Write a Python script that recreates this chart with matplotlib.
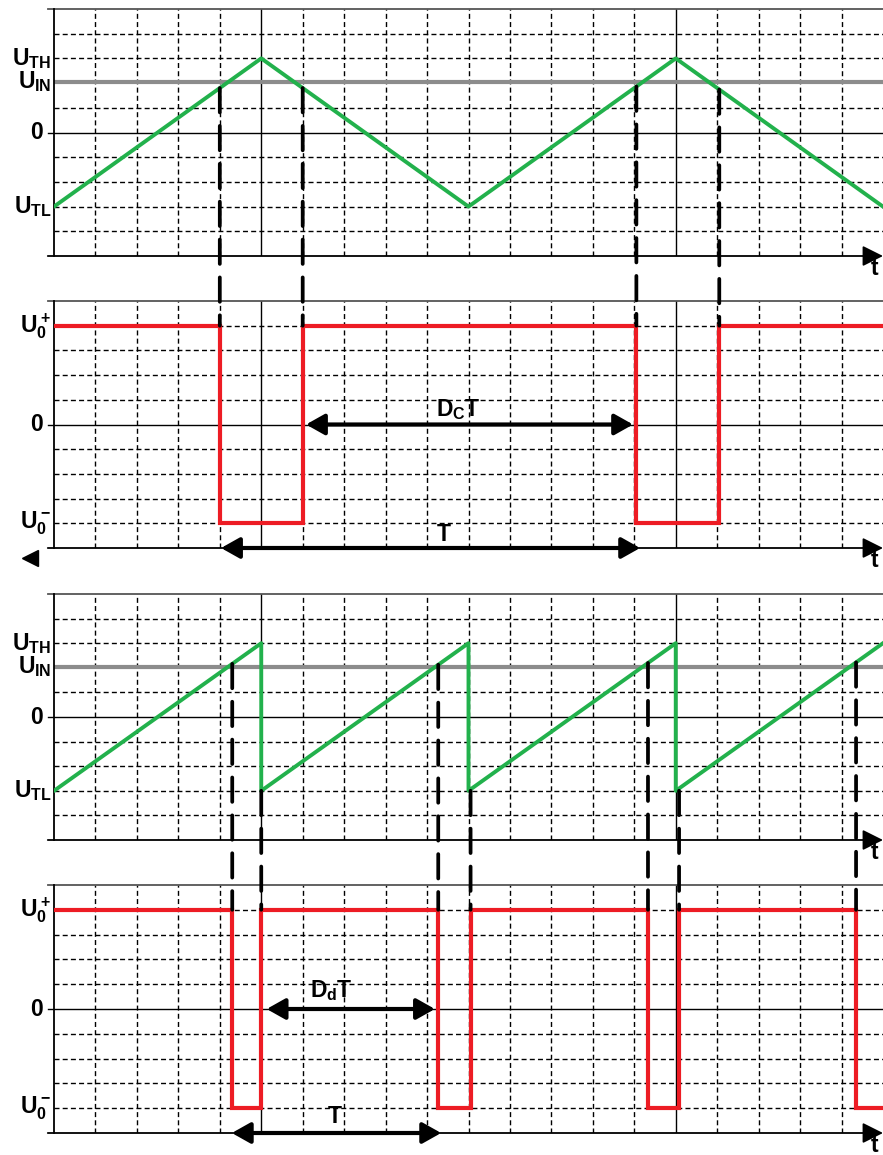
import matplotlib
matplotlib.use("Agg")
import matplotlib.pyplot as plt
import numpy as np
from matplotlib.patches import ConnectionPatch

plt.rcParams["font.family"] = ["Liberation Sans", "DejaVu Sans"]
plt.rcParams["font.weight"] = "bold"
plt.rcParams["mathtext.fontset"] = "custom"
plt.rcParams["mathtext.rm"] = "Liberation Sans:bold"
plt.rcParams["mathtext.it"] = "Liberation Sans:bold"
plt.rcParams["mathtext.bf"] = "Liberation Sans:bold"

GREEN = "#22b14c"
RED = "#ed1c24"
GRAY = "#8c8c8c"
FS = 16.5

# levels in grid divisions
U_TH, U_TL, U_IN = 3.0, -3.0, 2.05
U_HI, U_LO = 4.0, -4.0

# top pair: triangle carrier -> comparator output
tri_t = [0, 5, 10, 15, 20]
tri_v = [U_TL, U_TH, U_TL, U_TH, U_TL]
tri_low = [(4.0, 6.0), (14.05, 16.05)]          # (fall, rise) of output
tri_dT = (6.08, 13.97)
tri_T = (4.03, 14.14)

# bottom pair: sawtooth carrier -> comparator output
saw_t = [0, 5, 5, 10, 10, 15, 15, 20]
saw_v = [U_TL, U_TH, U_TL, U_TH, U_TL, U_TH, U_TL, U_TH]
saw_low = [(4.3, 5.0), (9.27, 10.05), (14.33, 15.08), (19.35, 21.0)]
saw_dT = (5.13, 9.19)
saw_T = (4.29, 9.34)

in_labels = [r"$U_{TH}$", r"$U_{IN}$", "0", r"$U_{TL}$"]
in_levels = [U_TH, U_IN, 0, U_TL]
out_labels = [r"$U_0^+$", "0", r"$U_0^-$"]
out_levels = [U_HI, 0, U_LO]


def square(lows, end=21):
    xs, ys = [0], [U_HI]
    for a, b in lows:
        xs += [a, a, b, b]
        ys += [U_HI, U_LO, U_LO, U_HI]
    xs.append(max(end, xs[-1])); ys.append(U_HI)
    return xs, ys


def grid(ax, labels, levels, skip=()):
    ax.set_xlim(0, 20); ax.set_ylim(-5, 5)
    ax.set_xticks([]); ax.set_yticks([])
    for s in ("top", "right", "bottom"):
        ax.spines[s].set_visible(False)
    ax.spines["left"].set_linewidth(1.3)
    for x in range(1, 20):
        if x in (5, 15):
            ax.axvline(x, color="black", lw=1.0, zorder=1)
        else:
            ax.axvline(x, color="black", lw=1.0, ls=(0, (3.6, 2.3)), zorder=1)
    for y in range(-4, 5):
        if y != 0 and y not in skip:
            ax.axhline(y, color="black", lw=1.0, ls=(0, (3.6, 2.3)), zorder=1)
    ax.plot([-0.15, 20], [0, 0], color="black", lw=1.0, clip_on=False, zorder=1)
    ax.plot([-0.15, 20], [5, 5], color="#555555", lw=1.3, clip_on=False, zorder=1)
    ax.annotate("", xy=(20, -5), xytext=(-0.15, -5), annotation_clip=False,
                arrowprops=dict(arrowstyle="-|>,head_length=0.9,head_width=0.45",
                                mutation_scale=14, lw=1.3, color="black",
                                shrinkA=0, shrinkB=0))
    ax.text(19.8, -5.5, "t", fontsize=FS, ha="center", va="center", clip_on=False)
    for lab, lev in zip(labels, levels):
        off = -8 if lab == "0" else -2
        ax.annotate(lab, xy=(0, lev), xytext=(off, 0), textcoords="offset points",
                    ha="right", va="center", fontsize=FS)


def span(ax, x0, x1, y):
    ax.annotate("", xy=(x1, y), xytext=(x0, y), annotation_clip=False,
                arrowprops=dict(arrowstyle="<|-|>,head_length=0.8,head_width=0.45",
                                mutation_scale=14, lw=3, color="black",
                                shrinkA=0, shrinkB=0), zorder=6)


def drop(fig, ax_top, ax_bot, x, y_top):
    con = ConnectionPatch(xyA=(x, y_top), coordsA="data", axesA=ax_top,
                          xyB=(x, U_HI), coordsB="data", axesB=ax_bot,
                          color="black", lw=2.7, ls=(0, (6.5, 3.6)), zorder=5)
    fig.add_artist(con)


fig = plt.figure(figsize=(8.83, 11.55), dpi=100)
W, H = 883, 1155
rects = [(9, 256), (301, 548), (594, 840), (885, 1133)]
ax1, ax2, ax3, ax4 = [fig.add_axes([54 / W, 1 - b / H, 829 / W, (b - t) / H])
                      for t, b in rects]

# the U_IN reference hides the grid row just under it
for ax in (ax1, ax3):
    grid(ax, in_labels, in_levels, skip=(2,))
    ax.axhline(U_IN, color=GRAY, lw=3, zorder=2)
for ax in (ax2, ax4):
    grid(ax, out_labels, out_levels)

# waveforms
ax1.plot(tri_t, tri_v, color=GREEN, lw=2.8, zorder=3)
ax3.plot(saw_t, saw_v, color=GREEN, lw=2.8, zorder=3)
xs, ys = square(tri_low)
ax2.plot(xs, ys, color=RED, lw=3, zorder=3, solid_joinstyle="miter")
xs, ys = square(saw_low)
ax4.plot(xs, ys, color=RED, lw=3, zorder=3, solid_joinstyle="miter")

# dashed projection lines from the comparator crossing to the output edge
for a, b in tri_low:
    drop(fig, ax1, ax2, a, np.interp(a, tri_t, tri_v))
    drop(fig, ax1, ax2, b, np.interp(b, tri_t, tri_v))
for a, b in saw_low:
    if a < 20:
        drop(fig, ax3, ax4, a, np.interp(a, saw_t, saw_v))
    if b <= 20:
        drop(fig, ax3, ax4, b, U_TL)

# duty / period arrows
span(ax2, *tri_dT, 0)
span(ax2, *tri_T, -5)
ax2.text(9.75, 0.12, r"$D_CT$", fontsize=FS, ha="center", va="bottom")
ax2.text(9.4, -4.92, "T", fontsize=FS, ha="center", va="bottom")
ax2.plot([-0.58], [-5.4], marker="<", ms=12, color="black", clip_on=False)

span(ax4, *saw_dT, 0)
span(ax4, *saw_T, -5)
ax4.text(6.68, 0.24, r"$D_dT$", fontsize=FS, ha="center", va="bottom")
ax4.text(6.78, -4.8, "T", fontsize=FS, ha="center", va="bottom")

fig.savefig("out.png", dpi=100)
